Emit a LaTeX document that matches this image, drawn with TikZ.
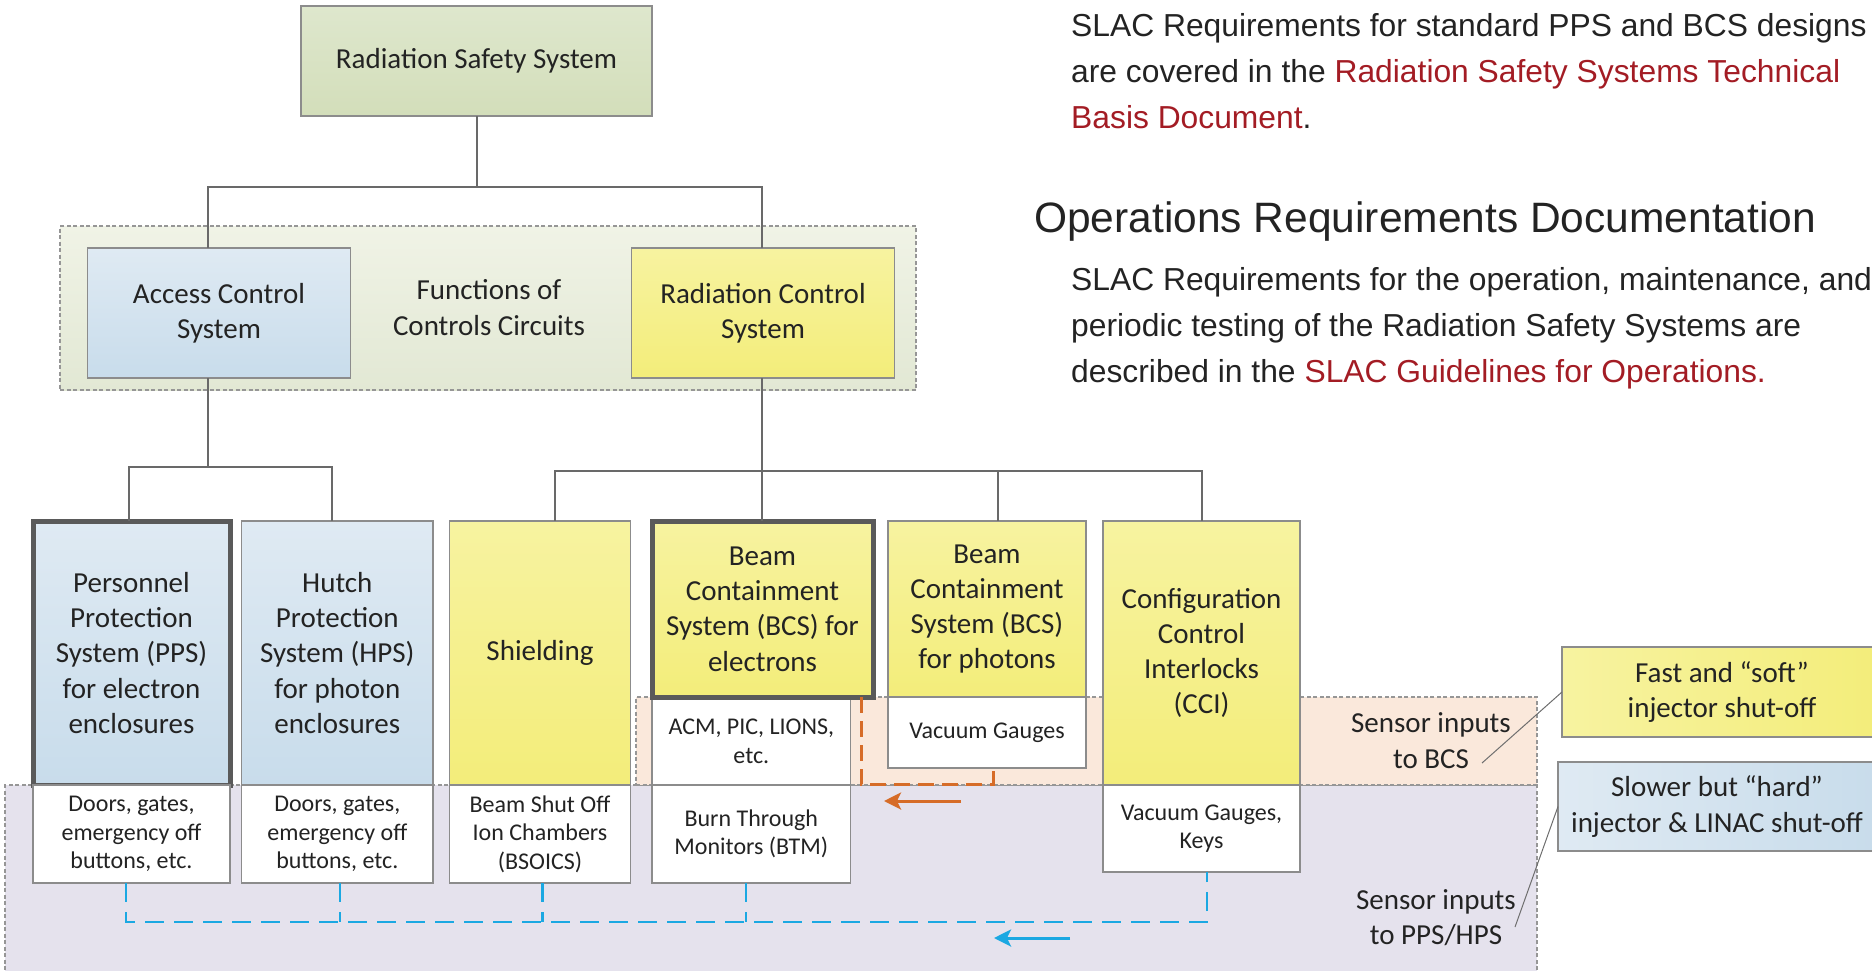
\documentclass[tikz,border=0pt]{standalone}
\usepackage{fontspec}
\setmainfont{Carlito}
\newfontfamily\arialf{Liberation Sans}
\usetikzlibrary{arrows.meta}
\definecolor{txt}{RGB}{35,35,35}
\definecolor{bord}{RGB}{140,140,140}
\definecolor{thickb}{RGB}{90,90,90}
\definecolor{connc}{RGB}{105,105,105}
\definecolor{leadc}{RGB}{110,110,110}
\definecolor{gTop}{RGB}{222,231,205}
\definecolor{gBot}{RGB}{211,222,186}
\definecolor{cTop}{RGB}{240,243,230}
\definecolor{cBot}{RGB}{226,232,212}
\definecolor{bTop}{RGB}{223,234,243}
\definecolor{bBot}{RGB}{200,220,235}
\definecolor{yTop}{RGB}{247,243,160}
\definecolor{yBot}{RGB}{243,237,122}
\definecolor{peach}{RGB}{250,232,219}
\definecolor{lav}{RGB}{229,226,237}
\definecolor{cyanl}{RGB}{27,168,226}
\definecolor{orng}{RGB}{214,108,40}
\definecolor{linkred}{RGB}{163,28,36}
\definecolor{dotg}{RGB}{150,150,150}
\newcommand\fbig{\fontsize{29}{35.3}\selectfont}
\newcommand\fsmall{\fontsize{24}{28.6}\selectfont}
\begin{document}
\begin{tikzpicture}[x=1pt,y=-1pt,
  box/.style={draw=bord, line width=1.2pt, inner sep=0pt, outer sep=0pt, align=center, text=txt, font=\fbig},
  sub/.style={box, fill=white, font=\fsmall},
  yel/.style={box, top color=yTop, bottom color=yBot},
  blu/.style={box, top color=bTop, bottom color=bBot},
  heavy/.style={draw=thickb, line width=5pt},
  region/.style={draw=dotg, line width=1.2pt, dash pattern=on 4pt off 2.5pt, inner sep=0pt, outer sep=0pt},
  conn/.style={draw=connc, line width=2pt},
  bluedash/.style={draw=cyanl, line width=2.8pt, dash pattern=on 19pt off 10pt},
  orngdash/.style={draw=orng, line width=3pt, dash pattern=on 16pt off 8pt},
  arr/.style={line width=3pt, -{Stealth[length=17pt,width=17pt,inset=4pt]}},
  leader/.style={draw=leadc, line width=1pt},
  plain/.style={text=txt, font=\fbig, align=center, inner sep=0pt},
  rt/.style={anchor=base west, inner sep=0pt, text=txt, font=\arialf\fontsize{31.8}{46}\selectfont}
]
\useasboundingbox (0,0) rectangle (1872,970);
\clip (0,0) rectangle (1872,970);

% background regions
\node[region, fill=lav, minimum width=1532pt, minimum height=200pt] (lavreg) at (771,885) {};
\node[region, fill=peach, minimum width=901pt, minimum height=88pt] (peachreg) at (1086.5,741) {};
\node[region, top color=cTop, bottom color=cBot, minimum width=856pt, minimum height=164pt] (ctr) at (488,308) {};

% top level
\node[box, top color=gTop, bottom color=gBot, minimum width=351pt, minimum height=110pt] (rss) at (476.5,61) {\raisebox{-2pt}{Radiation Safety System}};
\node[blu, minimum width=263.5pt, minimum height=130pt] (acs) at (219,313) {Access Control\\System};
\node[plain] (fcc) at (489,307.5) {Functions of\\Controls Circuits};
\node[yel, minimum width=263.5pt, minimum height=130pt] (rcs) at (763,313) {Radiation Control\\System};

% bottom row
\node[blu, heavy, minimum width=197pt, minimum height=264pt] (pps) at (131.5,653) {Personnel\\Protection\\System (PPS)\\for electron\\enclosures};
\node[sub, minimum width=197pt, minimum height=98pt] (ppss) at (131.5,834) {Doors, gates,\\emergency off\\buttons, etc.};
\node[blu, minimum width=191.4pt, minimum height=264pt] (hps) at (337.3,653) {Hutch\\Protection\\System (HPS)\\for photon\\enclosures};
\node[sub, minimum width=191.4pt, minimum height=98pt] (hpss) at (337.3,834) {Doors, gates,\\emergency off\\buttons, etc.};
\node[yel, minimum width=181pt, minimum height=264pt] (shd) at (540,653) {Shielding};
\node[sub, minimum width=181pt, minimum height=98pt] (shds) at (540,834) {Beam Shut Off\\Ion Chambers\\(BSOICS)};
\node[sub, minimum width=198.7pt, minimum height=88pt] (acm) at (751.3,741) {ACM, PIC, LIONS,\\etc.};
\node[sub, minimum width=198.7pt, minimum height=98pt] (btm) at (751.3,834) {Burn Through\\Monitors (BTM)};
\node[yel, heavy, minimum width=221pt, minimum height=176pt] (bcse) at (762.5,609) {Beam\\Containment\\System (BCS) for\\electrons};
\node[yel, minimum width=198pt, minimum height=176pt] (bcsp) at (987,609) {Beam\\Containment\\System (BCS)\\for photons};
\node[sub, minimum width=198pt, minimum height=71pt] (vac) at (987,732.5) {Vacuum Gauges};
\node[yel, minimum width=197pt, minimum height=264pt] (cci) at (1201.5,653) {Configuration\\Control\\Interlocks\\(CCI)};
\node[sub, minimum width=197pt, minimum height=87pt] (ccis) at (1201.5,828.5) {Vacuum Gauges,\\Keys};

% right boxes
\node[box, left color=yTop, right color=yBot, minimum width=320pt, minimum height=90pt] (fast) at (1722,692) {Fast and “soft”\\injector shut-off};
\node[box, left color=bTop, right color=bBot, minimum width=318pt, minimum height=89pt] (slow) at (1717,806.5) {Slower but “hard”\\injector \& LINAC shut-off};

% labels
\node[plain] (lbcs) at (1431,740.5) {Sensor inputs\\to BCS};
\node[plain] (lpps) at (1436,917.5) {Sensor inputs\\to PPS/HPS};
\coordinate (lbend) at (1482,763);
\coordinate (lpend) at (1515,927);
\draw[leader] (lbend) -- (fast.west);
\draw[leader] (lpend) -- (slow.west);

% tree connectors
\coordinate (j0) at (476.5,187);
\coordinate (j1) at (208,467);
\coordinate (j2) at (762,471);
\draw[conn] (rss.south) -- (j0);
\draw[conn] (j0) -| ([xshift=-11pt]acs.north);
\draw[conn] (j0) -| ([xshift=-1pt]rcs.north);
\draw[conn] ([xshift=-11pt]acs.south) -- (j1);
\draw[conn] (j1) -| ([xshift=-2.5pt]pps.north);
\draw[conn] (j1) -| ([xshift=-5.5pt]hps.north);
\draw[conn] ([xshift=-1pt]rcs.south) -- (j2);
\draw[conn] (j2) -| ([xshift=15pt]shd.north);
\draw[conn] (j2) -| ([xshift=-0.5pt]bcse.north);
\draw[conn] (j2) -| ([xshift=11pt]bcsp.north);
\draw[conn] (j2) -| (cci.north);

% sensor signal lines
\draw[orngdash] ([xshift=98.5pt]bcse.south) -- ++(0,87) -| ([xshift=6pt]vac.south);
\draw[bluedash] ([xshift=-5.5pt]ppss.south) -- ++(0,39) -| ([xshift=5.5pt]ccis.south);
\draw[bluedash] ([xshift=2.7pt]hpss.south) -- ++(0,39);
\draw[bluedash] ([xshift=2.6pt]shds.south) -- ++(0,39);
\draw[bluedash] ([xshift=-5.3pt]btm.south) -- ++(0,39);
\coordinate (oa1) at (961,801);
\coordinate (oa2) at (884,801);
\draw[arr, orng] (oa1) -- (oa2);
\coordinate (ba1) at (1070,938);
\coordinate (ba2) at (994,938);
\draw[arr, cyanl] (ba1) -- (ba2);

% right text
\node[rt] (p1a) at (1071,36) {SLAC Requirements for standard PPS and BCS designs};
\node[rt] (p1b) at (1071,82) {are covered in the \textcolor{linkred}{Radiation Safety Systems Technical}};
\node[rt] (p1c) at (1071,128) {\textcolor{linkred}{Basis Document}.};
\node[rt, font=\arialf\fontsize{42.5}{50}\selectfont] (hd) at (1034,232) {Operations Requirements Documentation};
\node[rt] (p2a) at (1071,290) {SLAC Requirements for the operation, maintenance, and};
\node[rt] (p2b) at (1071,336) {periodic testing of the Radiation Safety Systems are};
\node[rt] (p2c) at (1071,382) {described in the \textcolor{linkred}{SLAC Guidelines for Operations.}};
\end{tikzpicture}
\end{document}
